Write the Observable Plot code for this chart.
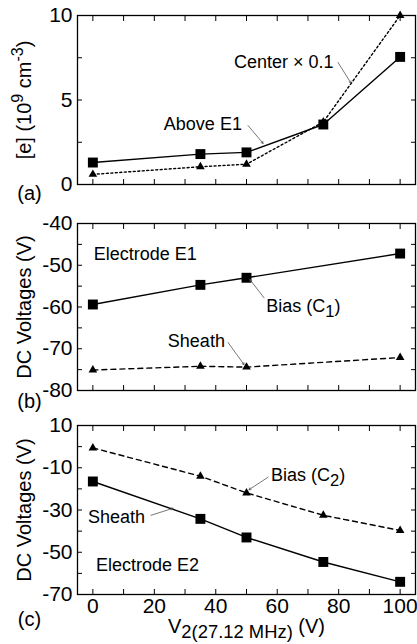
<!DOCTYPE html>
<html><head><meta charset="utf-8">
<script src="https://cdn.jsdelivr.net/npm/d3@7"></script>
<script src="https://cdn.jsdelivr.net/npm/@observablehq/plot@0.6"></script>
<style>
body{margin:0;background:#fff}
#chart{width:417px;height:644px;position:relative;background:#fff}
#chart svg{display:block}
</style>
</head><body><div id="chart"></div>
<script>
// ---- data ----
const V = [0, 35, 50, 75, 100];
const aboveE1 = [1.3, 1.8, 1.9, 3.55, 7.55];
const centerX01 = [0.6, 1.05, 1.2, 3.7, 10.0];

const Vb = [0, 35, 50, 100];
const biasC1 = [-59.4, -54.7, -53.0, -47.2];
const sheathE1 = [-75.1, -74.2, -74.4, -72.1];

const Vc = [0, 35, 50, 75, 100];
const biasC2 = [-0.6, -14.0, -21.9, -32.5, -39.7];
const sheathE2 = [-16.5, -34.2, -43.0, -54.6, -64.0];

const xTickLabels = [0, 20, 40, 60, 80, 100];
const xTickMarks = d3.range(0, 101, 10);
const yLabelsA = [0, 5, 10];
const yMarksA = [0, 2.5, 5, 7.5, 10];
const yLabelsB = [-80, -70, -60, -50, -40];
const yMarksB = d3.range(-80, -39, 5);
const yLabelsC = [10, -10, -30, -50, -70];
const yMarksC = d3.range(-70, 11, 10);

// annotations (data coordinates)
const annA = [
  {text: "Center \u00d7 0.1", x: 45.9, y: 7.22},
  {text: "Above E1", x: 23.1, y: 3.55}
];
const leadA = [
  {x1: 79.8, y1: 7.22, x2: 84.0, y2: 6.0},
  {x1: 50.5, y1: 3.49, x2: 55.4, y2: 2.43}
];
const annB = [
  {text: "Electrode E1", x: 0.3, y: -47.25},
  {text: "Bias (C_{1})", x: 56.4, y: -59.7},
  {text: "Sheath", x: 24.4, y: -68.1}
];
const leadB = [
  {x1: 55.7, y1: -57.8, x2: 51.1, y2: -53.4},
  {x1: 44.0, y1: -68.5, x2: 49.2, y2: -73.8}
];
const annC = [
  {text: "Bias (C_{2})", x: 58.0, y: -13.5},
  {text: "Sheath", x: -1.6, y: -33.4},
  {text: "Electrode E2", x: 1.0, y: -56.1}
];
const leadC = [
  {x1: 57.0, y1: -14.5, x2: 50.8, y2: -20.4},
  {x1: 18.9, y1: -32.5, x2: 26.1, y2: -29.2}
];

// ---- helpers ----
const FONT = "'Liberation Sans', Arial, Helvetica, sans-serif";
const xDomain = [-5, 105];
const toRows = (xs, ys) => xs.map((x, i) => ({x, y: ys[i]}));

function frameAndTicks(yMarks) {
  const common = {tickFormat: () => "", label: null, tickSize: -5, strokeWidth: 1};
  return [
    Plot.axisX({...common, anchor: "bottom", ticks: xTickMarks}),
    Plot.axisX({...common, anchor: "top", ticks: xTickMarks}),
    Plot.axisY({...common, anchor: "left", ticks: yMarks}),
    Plot.axisY({...common, anchor: "right", ticks: yMarks}),
    Plot.frame({stroke: "black", strokeWidth: 1.3})
  ];
}
function yLabelAxis(ticks) {
  return Plot.axisY({anchor: "left", ticks, tickSize: 0, tickPadding: 5, label: null, fontSize: 21, tickFormat: d => String(d)});
}
function series(rows, symbol, dash, r) {
  return [
    Plot.line(rows, {x: "x", y: "y", stroke: "black", strokeWidth: 1.4, strokeDasharray: dash}),
    Plot.dot(rows, {x: "x", y: "y", symbol, r, fill: "black", stroke: "none"})
  ];
}
function annotations(ann, lead) {
  return [
    Plot.arrow(lead, {x1: "x1", y1: "y1", x2: "x2", y2: "y2", stroke: "#555", strokeWidth: 0.8, headLength: 4}),
    Plot.text(ann, {x: "x", y: "y", text: "text", textAnchor: "start", fontSize: 18})
  ];
}
function yTitle(label) {
  return Plot.text([label], {frameAnchor: "left", rotate: -90, dx: -53, textAnchor: "middle", lineAnchor: "middle", fontSize: 20});
}
function panelTag(label, dy) {
  return Plot.text([label], {frameAnchor: "bottom-left", dx: -48, dy, textAnchor: "middle", lineAnchor: "middle", fontSize: 20});
}
function applyMarkup(svg) {
  d3.select(svg).selectAll("text").each(function() {
    const t = this.textContent;
    if (!/[_^]\{/.test(t)) return;
    const el = d3.select(this);
    el.text(null);
    const re = /([_^])\{([^}]*)\}/g;
    let last = 0, m, shift = 0;
    const add = (s, newShift, size) => {
      if (!s) return;
      const ts = el.append("tspan").text(s);
      const d = newShift - shift;
      if (d) ts.attr("dy", d);
      if (size) ts.attr("font-size", size);
      shift = newShift;
    };
    while ((m = re.exec(t))) {
      add(t.slice(last, m.index), 0);
      if (m[1] === "^") add(m[2], -8, "0.8em"); else add(m[2], 5, "0.92em");
      last = re.lastIndex;
    }
    add(t.slice(last), 0);
  });
  return svg;
}
const baseOpts = {
  width: 417, marginLeft: 77, marginRight: 2,
  x: {domain: xDomain},
  style: {fontFamily: FONT, fontSize: "20px", color: "black", background: "white", overflow: "visible"}
};

// ---- panel (a) ----
const pa = Plot.plot({
  ...baseOpts, height: 200, marginTop: 15, marginBottom: 16,
  y: {domain: [0, 10]},
  marks: [
    ...frameAndTicks(yMarksA),
    yLabelAxis(yLabelsA),
    ...series(toRows(V, centerX01), "triangle", "2,2.5", 3.2),
    ...series(toRows(V, aboveE1), "square", null, 5.6),
    ...annotations(annA, leadA),
    yTitle("[e] (10^{9} cm^{-3})"),
    panelTag("(a)", 9)
  ]
});

// ---- panel (b) ----
const pb = Plot.plot({
  ...baseOpts, height: 210, marginTop: 23, marginBottom: 20,
  y: {domain: [-80, -40]},
  marks: [
    ...frameAndTicks(yMarksB),
    yLabelAxis(yLabelsB),
    ...series(toRows(Vb, sheathE1), "triangle", "5,4", 3.2),
    ...series(toRows(Vb, biasC1), "square", null, 5.6),
    ...annotations(annB, leadB),
    yTitle("DC Voltages (V)"),
    panelTag("(b)", 11)
  ]
});

// ---- panel (c) ----
const pc = Plot.plot({
  ...baseOpts, height: 234, marginTop: 15, marginBottom: 50,
  y: {domain: [-70, 10]},
  marks: [
    ...frameAndTicks(yMarksC),
    yLabelAxis(yLabelsC),
    Plot.axisX({anchor: "bottom", ticks: xTickLabels, tickSize: 0, tickPadding: 4, label: null, fontSize: 21}),
    ...series(toRows(Vc, biasC2), "triangle", "5,4", 3.2),
    ...series(toRows(Vc, sheathE2), "square", null, 5.6),
    ...annotations(annC, leadC),
    yTitle("DC Voltages (V)"),
    panelTag("(c)", 25),
    Plot.text(["V_{2(27.12 MHz)} (V)"], {frameAnchor: "bottom", dy: 32, textAnchor: "middle", lineAnchor: "middle", fontSize: 20})
  ]
});

const root = document.getElementById("chart");
[pa, pb, pc].forEach(p => root.appendChild(applyMarkup(p)));
</script></body></html>
